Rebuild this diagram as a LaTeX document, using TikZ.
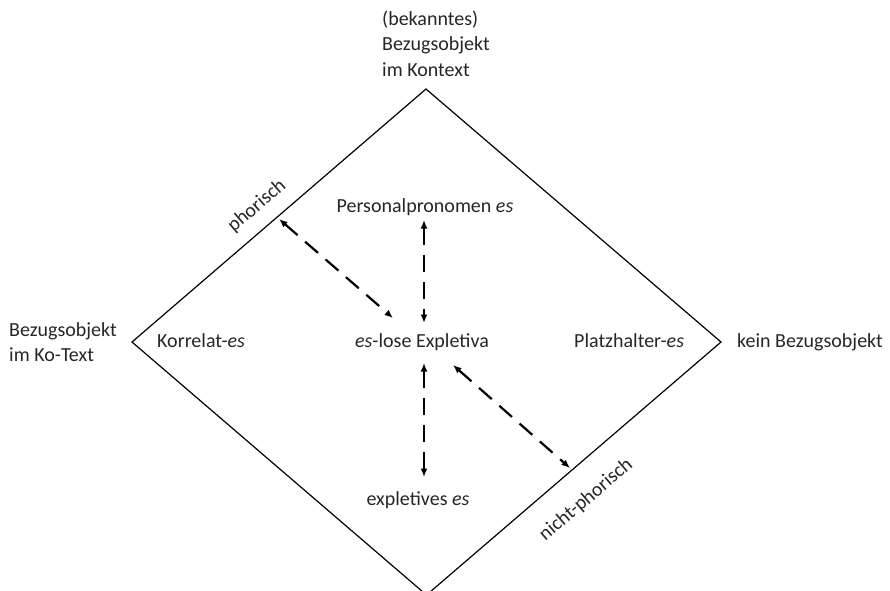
\documentclass[tikz,border=0pt]{standalone}
\usepackage{fontspec}
\setmainfont{Carlito}
\usetikzlibrary{arrows.meta}
\tikzset{
  lbl/.style={inner sep=0pt, font=\fontsize{20}{25.5}\selectfont, text=black!85},
  edge/.style={line width=1.2pt, line join=miter},
  link/.style={line width=2.2pt, dash pattern=on 17pt off 10pt, {Latex[length=8.5pt,width=7pt]}-{Latex[length=8.5pt,width=7pt]}},
}
\begin{document}
\begin{tikzpicture}[x=1pt,y=-1pt]
\useasboundingbox (0,0) rectangle (890,590);
\begin{scope}
\clip (0,0) rectangle (890,590);
\coordinate (top) at (426,89);
\coordinate (left) at (132,342);
\coordinate (right) at (721,342);
\coordinate (bottom) at (426.5,595);
\draw[edge] (top) -- (right) -- (bottom) -- (left) -- cycle;
\end{scope}

\node[lbl, anchor=north west, align=left] (ctx) at (382,10.5) {(bekanntes)\\Bezugsobjekt\\im Kontext};
\node[lbl, anchor=north west, align=left] (kotext) at (9,322) {Bezugsobjekt\\im Ko-Text};
\node[lbl, anchor=base west] (kein) at (737,347) {kein Bezugsobjekt};

\node[lbl, anchor=base west] (korr) at (157,347) {Korrelat-\emph{es}};
\node[lbl, anchor=base] (eslose) at (422,347) {\emph{es}-lose Expletiva};
\node[lbl, anchor=base west] (platz) at (574,347) {Platzhalter-\emph{es}};
\node[lbl, anchor=base] (pers) at (425,212) {Personalpronomen \emph{es}};
\node[lbl, anchor=base] (expl) at (418,505) {expletives \emph{es}};

\node[lbl, rotate=40.7] (phor) at (257,206) {phorisch};
\node[lbl, rotate=40.5] (nphor) at (586,500) {nicht-phorisch};

\coordinate (a1s) at (279,219);
\coordinate (a1e) at (393,318);
\coordinate (a2s) at (424,220);
\coordinate (a2e) at (424,323);
\coordinate (a3s) at (424,363);
\coordinate (a3e) at (424,477);
\coordinate (a4s) at (453,365);
\coordinate (a4e) at (570,468);

\draw[link] (a1s) -- (a1e);
\draw[link] (a2s) -- (a2e);
\draw[link] (a3s) -- (a3e);
\draw[link] (a4s) -- (a4e);
\end{tikzpicture}
\end{document}
